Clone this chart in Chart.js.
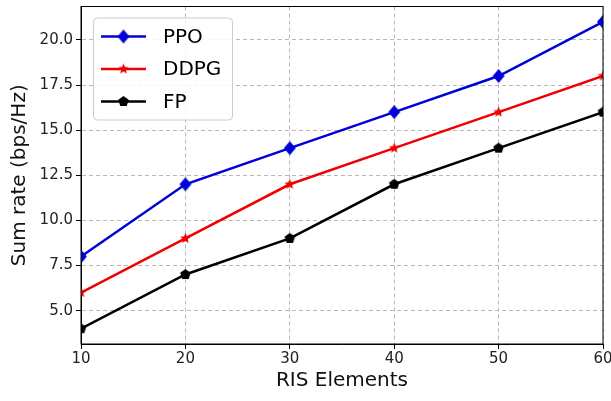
<!DOCTYPE html>
<html>
<head>
<meta charset="utf-8">
<script src="https://cdn.jsdelivr.net/npm/chart.js@4/dist/chart.umd.min.js"></script>
<style>
  html, body { margin: 0; padding: 0; background: #fff; }
  #wrap { width: 611px; height: 401px; }
</style>
</head>
<body>
<div id="wrap"><canvas id="sumRateChart" width="611" height="401"></canvas></div>
<script>
// data
const risElements = [10, 20, 30, 40, 50, 60];
const ppoRate = [8, 12, 14, 16, 18, 21];
const ddpgRate = [6, 9, 12, 14, 16, 18];
const fpRate = [4, 7, 9, 12, 14, 16];
const seriesNames = ['PPO', 'DDPG', 'FP'];

const FONT = "'DejaVu Sans', sans-serif";

// small canvases used as marker images
function makeMarker(shape, r, color) {
    const c = document.createElement('canvas');
    const s = Math.ceil(r * 2 + 2);
    c.width = s; c.height = s;
    const g = c.getContext('2d');
    g.translate(s / 2, s / 2);
    g.fillStyle = color;
    g.beginPath();
    if (shape === 'star') {
        for (let i = 0; i < 10; i++) {
            const rr = i % 2 === 0 ? r : r * 0.45;
            const a = -Math.PI / 2 + i * Math.PI / 5;
            g.lineTo(rr * Math.cos(a), rr * Math.sin(a));
        }
    } else if (shape === 'pentagon') {
        for (let i = 0; i < 5; i++) {
            const a = -Math.PI / 2 + i * 2 * Math.PI / 5;
            g.lineTo(r * Math.cos(a), r * Math.sin(a));
        }
    } else {
        g.moveTo(0, -r); g.lineTo(r * 0.85, 0); g.lineTo(0, r); g.lineTo(-r * 0.85, 0);
    }
    g.closePath();
    g.fill();
    return c;
}

const blue = '#0000d8';
const red = '#f00000';
const black = '#000000';
const diamondImg = makeMarker('diamond', 7, blue);
const starImg = makeMarker('star', 5.5, red);
const pentImg = makeMarker('pentagon', 5.5, black);

// legend drawn inside the axes, upper left, like matplotlib
const insideLegend = {
    id: 'insideLegend',
    afterDraw(chart) {
        const ctx = chart.ctx;
        const area = chart.chartArea;
        const x0 = area.left + 12, y0 = area.top + 11;
        const w = 139, h = 102;
        ctx.save();
        ctx.fillStyle = 'rgba(255,255,255,0.85)';
        ctx.strokeStyle = '#cccccc';
        ctx.lineWidth = 1;
        ctx.beginPath();
        ctx.roundRect(x0 + 0.5, y0 + 0.5, w, h, 4);
        ctx.fill();
        ctx.stroke();
        ctx.font = '20px ' + FONT;
        ctx.textBaseline = 'middle';
        chart.data.datasets.forEach((ds, i) => {
            const y = y0 + 19 + i * 32.5;
            ctx.strokeStyle = ds.borderColor;
            ctx.lineWidth = 2.5;
            ctx.beginPath();
            ctx.moveTo(x0 + 8, y);
            ctx.lineTo(x0 + 53, y);
            ctx.stroke();
            const img = ds.pointStyle;
            ctx.drawImage(img, x0 + 30.5 - img.width / 2, y - img.height / 2);
            ctx.fillStyle = '#000';
            ctx.fillText(ds.label, x0 + 70, y + 1);
        });
        ctx.restore();
    }
};

// full box round the plot area
const frameBox = {
    id: 'frameBox',
    afterDatasetsDraw(chart) {
        const { ctx, chartArea: a } = chart;
        ctx.save();
        ctx.strokeStyle = '#000';
        ctx.lineWidth = 1;
        ctx.strokeRect(a.left, a.top, a.right - a.left, a.bottom - a.top);
        ctx.restore();
    }
};

const ctx = document.getElementById('sumRateChart').getContext('2d');
new Chart(ctx, {
    type: 'line',
    data: {
        labels: risElements,
        datasets: [
            {
                label: seriesNames[0],
                data: risElements.map((x, i) => ({ x: x, y: ppoRate[i] })),
                borderColor: blue,
                backgroundColor: blue,
                borderWidth: 2.5,
                pointStyle: diamondImg,
                tension: 0
            },
            {
                label: seriesNames[1],
                data: risElements.map((x, i) => ({ x: x, y: ddpgRate[i] })),
                borderColor: red,
                backgroundColor: red,
                borderWidth: 2.5,
                pointStyle: starImg,
                tension: 0
            },
            {
                label: seriesNames[2],
                data: risElements.map((x, i) => ({ x: x, y: fpRate[i] })),
                borderColor: black,
                backgroundColor: black,
                borderWidth: 2.5,
                pointStyle: pentImg,
                tension: 0
            }
        ]
    },
    options: {
        responsive: false,
        animation: false,
        layout: { padding: { top: 0, right: 8, left: 0, bottom: 0 } },
        plugins: {
            legend: { display: false },
            tooltip: { enabled: false }
        },
        scales: {
            x: {
                type: 'linear',
                min: 10,
                max: 60,
                afterFit(scale) {
                    scale.height = 57;
                    scale.paddingLeft = 0;
                    scale.paddingRight = 0;
                },
                ticks: {
                    stepSize: 10,
                    color: '#222',
                    font: { family: FONT, size: 15 },
                    padding: 1,
                    maxRotation: 0
                },
                grid: { color: '#b8b8b8', lineWidth: 1, tickColor: '#000', tickLength: 5, tickBorderDash: [] },
                border: { color: '#000', width: 1, dash: [4, 3] },
                title: {
                    display: true,
                    text: 'RIS Elements',
                    color: '#111',
                    font: { family: FONT, size: 20 },
                    padding: { top: 0, bottom: 8 }
                }
            },
            y: {
                min: 3.15,
                max: 21.85,
                afterFit(scale) {
                    scale.width = 81;
                    scale.paddingTop = 0;
                    scale.paddingBottom = 0;
                },
                ticks: {
                    stepSize: 2.5,
                    includeBounds: false,
                    color: '#222',
                    font: { family: FONT, size: 15 },
                    padding: 3,
                    callback: v => v.toFixed(1)
                },
                grid: { color: '#b8b8b8', lineWidth: 1, tickColor: '#000', tickLength: 5, tickBorderDash: [] },
                border: { color: '#000', width: 1, dash: [4, 3] },
                title: {
                    display: true,
                    text: 'Sum rate (bps/Hz)',
                    color: '#111',
                    font: { family: FONT, size: 20 },
                    padding: { top: 8, bottom: 0 }
                }
            }
        }
    },
    plugins: [frameBox, insideLegend]
});
</script>
</body>
</html>
